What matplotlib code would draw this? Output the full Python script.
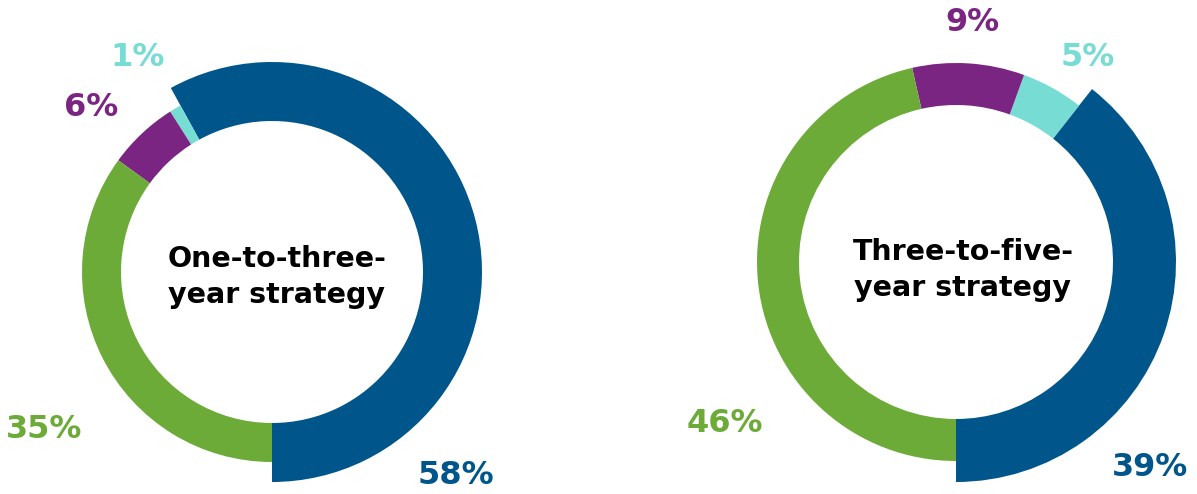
import matplotlib.pyplot as plt

# data, counter-clockwise from 6 o'clock
labels = ["blue", "cyan", "purple", "green"]
one_to_three = [58, 1, 6, 35]
three_to_five = [39, 5, 9, 46]
titles = ["One-to-three-\nyear strategy", "Three-to-five-\nyear strategy"]

colors = ["#00568B", "#77DDD4", "#7A2581", "#6CAB38"]

plt.rcParams['font.family'] = ['DejaVu Sans']

W, H = 1197, 494
fig = plt.figure(figsize=(W / 100, H / 100), dpi=100)
ax = fig.add_axes([0, 0, 1, 1])
ax.set_xlim(0, W)
ax.set_ylim(0, H)
ax.set_aspect("equal")
ax.axis("off")

# layout (pixel coords, y from top) : center, outer r, inner r, blue outer r
layouts = [
    dict(c=(272, 272), r=190, ri=151, rb=210,
         lab=[(456, 476), (138, 58), (91, 108), (44, 429)], title=(277, 277)),
    dict(c=(956, 262), r=199, ri=157, rb=220,
         lab=[(1150, 467), (1088, 58), (972, 23), (725, 423)], title=(963, 270)),
]

for vals, title, lay in zip([one_to_three, three_to_five], titles, layouts):
    cx, cy = lay["c"]
    wedges, _ = ax.pie(vals, colors=colors, startangle=270, counterclock=True,
                       center=(cx, H - cy), radius=lay["r"],
                       wedgeprops=dict(width=lay["r"] - lay["ri"], linewidth=0))
    # the first (blue) segment sticks out further
    wedges[0].set_radius(lay["rb"])
    wedges[0].set_width(lay["rb"] - lay["ri"])

    for v, col, (lx, ly) in zip(vals, colors, lay["lab"]):
        ax.text(lx, H - ly, "%d%%" % v, color=col, fontsize=23,
                fontweight="bold", ha="center", va="center")

    tx, ty = lay["title"]
    ax.text(tx, H - ty, title, color="black", fontsize=20.5, fontweight="bold",
            ha="center", va="center", linespacing=1.32)

ax.set_xlim(0, W)
ax.set_ylim(0, H)

fig.savefig("out.png", dpi=100)
